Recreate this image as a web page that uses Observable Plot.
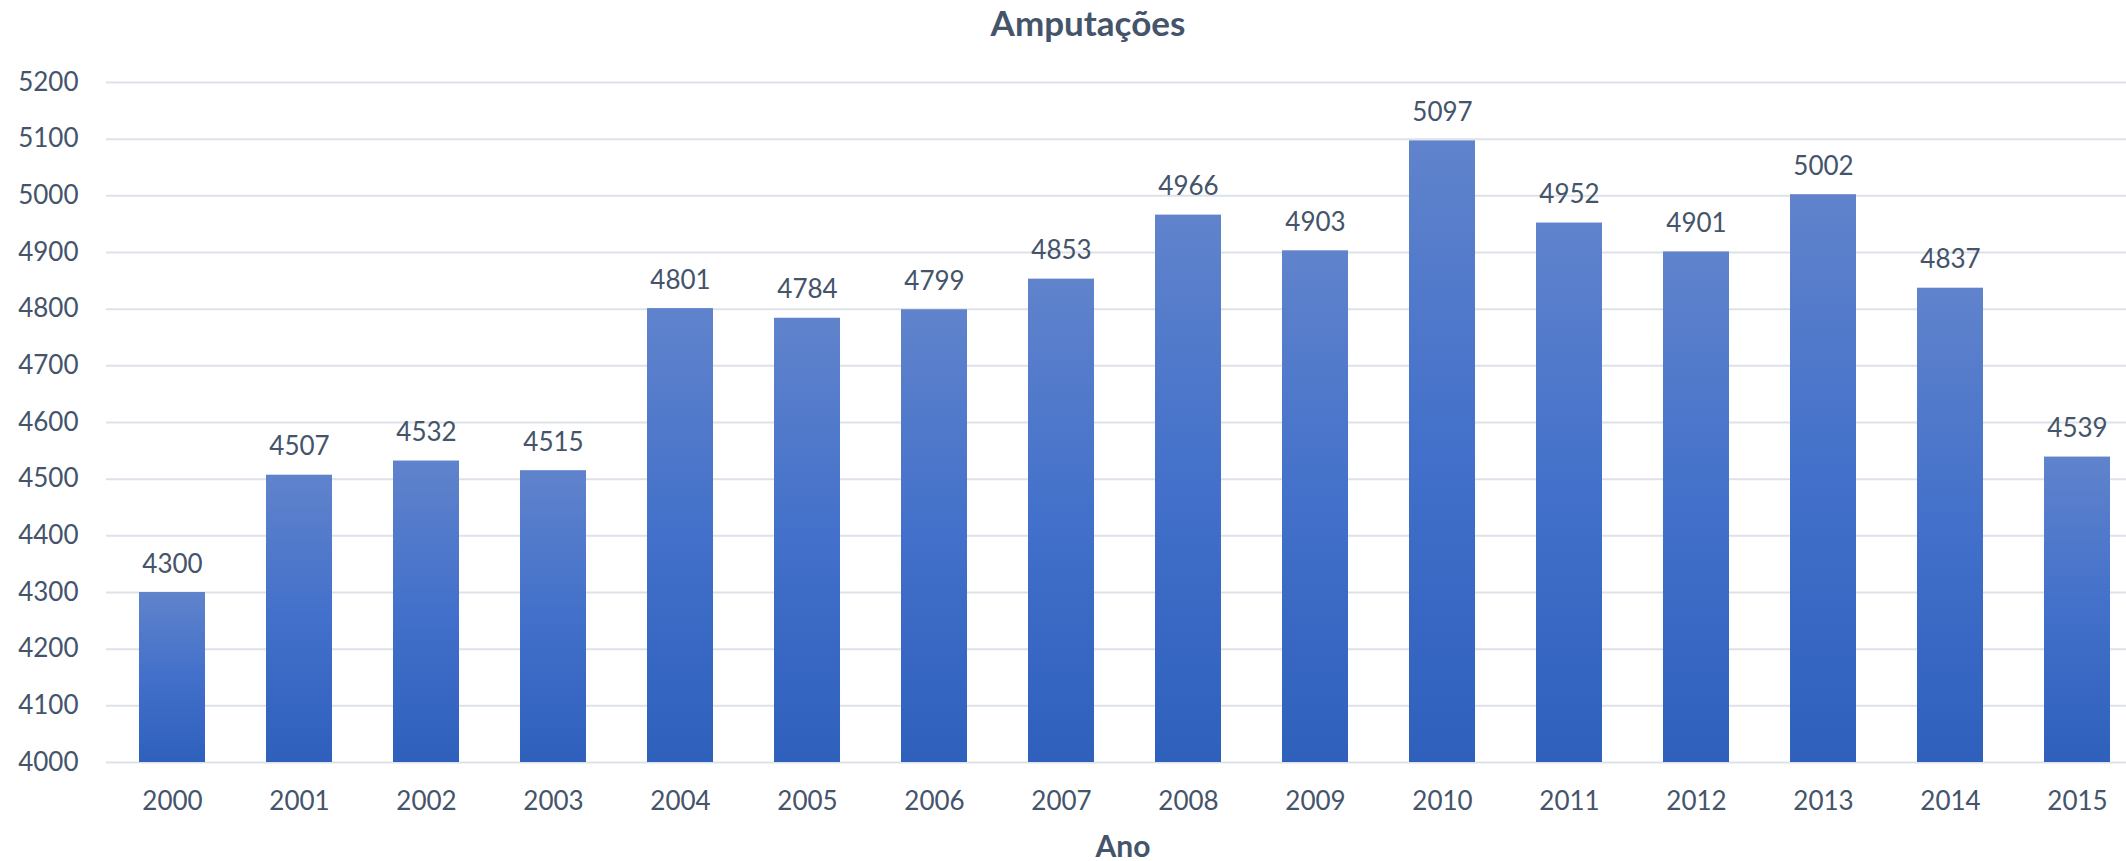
<!DOCTYPE html>
<html>
<head>
<meta charset="utf-8">
<script src="https://cdn.jsdelivr.net/npm/d3@7"></script>
<script src="https://cdn.jsdelivr.net/npm/@observablehq/plot@0.6"></script>
<style>
  html, body { margin: 0; padding: 0; background: #fff; overflow: hidden; }
  body { width: 2126px; height: 861px; font-family: Lato, "Open Sans", sans-serif; color: #44546A; }
  .title { box-sizing: border-box; width: 2126px; height: 60px; padding-left: 50px; text-align: center;
           font-size: 35px; font-weight: 700; line-height: 45px; }
  .xlabel { box-sizing: border-box; width: 2126px; height: 41px; padding-left: 120px; text-align: center;
            font-size: 30px; font-weight: 700; line-height: 51px; }
  #chart svg { display: block; }
</style>
</head>
<body>
<div class="title">Amputações</div>
<div id="chart"></div>
<div class="xlabel">Ano</div>
<script>
// Amputações por ano
const years = ["2000", "2001", "2002", "2003", "2004", "2005", "2006", "2007",
               "2008", "2009", "2010", "2011", "2012", "2013", "2014", "2015"];
const amputations = [4300, 4507, 4532, 4515, 4801, 4784, 4799, 4853,
                     4966, 4903, 5097, 4952, 4901, 5002, 4837, 4539];
const yTicks = [4000, 4100, 4200, 4300, 4400, 4500, 4600, 4700, 4800, 4900, 5000, 5100, 5200];

const data = years.map((ano, i) => ({ano, valor: amputations[i]}));

const textColor = "#44546A";
const gridColor = "#DDE1E8";

const chart = Plot.plot({
  width: 2126,
  height: 760,
  marginTop: 22,
  marginBottom: 58,
  marginLeft: 106,
  marginRight: 0,
  style: { fontFamily: "Lato, 'Open Sans', sans-serif", fontSize: "26px", color: textColor, background: "#fff" },
  x: { domain: years, range: [106, 2144], paddingInner: 0.48, paddingOuter: 0.24, label: null },
  y: { domain: [4000, 5200], label: null },
  marks: [
    Plot.gridY(yTicks, { stroke: gridColor, strokeOpacity: 1, strokeWidth: 2 }),
    Plot.barY(data, { x: "ano", y1: 4000, y2: "valor", fill: "url(#barGradient)" }),
    Plot.text(data, { x: "ano", y: "valor", text: d => String(d.valor), lineAnchor: "bottom",
                      dy: -20, fill: textColor, fontSize: 26 }),
    Plot.axisY(yTicks, { tickSize: 0, tickPadding: 28, tickFormat: d => String(d),
                         fill: textColor, fontSize: 26, label: null }),
    Plot.axisX({ tickSize: 0, tickPadding: 29, fill: textColor, fontSize: 26, label: null })
  ]
});

// Vertical gradient applied to each bar (lighter at the top, darker at the base)
const ns = "http://www.w3.org/2000/svg";
const defs = document.createElementNS(ns, "defs");
const grad = document.createElementNS(ns, "linearGradient");
grad.setAttribute("id", "barGradient");
grad.setAttribute("x1", "0"); grad.setAttribute("y1", "0");
grad.setAttribute("x2", "0"); grad.setAttribute("y2", "1");
[["0%", "#6083CC"], ["50%", "#4270CA"], ["100%", "#2E60BC"]].forEach(([off, col]) => {
  const s = document.createElementNS(ns, "stop");
  s.setAttribute("offset", off);
  s.setAttribute("stop-color", col);
  grad.appendChild(s);
});
defs.appendChild(grad);
chart.insertBefore(defs, chart.firstChild);

document.getElementById("chart").appendChild(chart);
</script>
</body>
</html>
